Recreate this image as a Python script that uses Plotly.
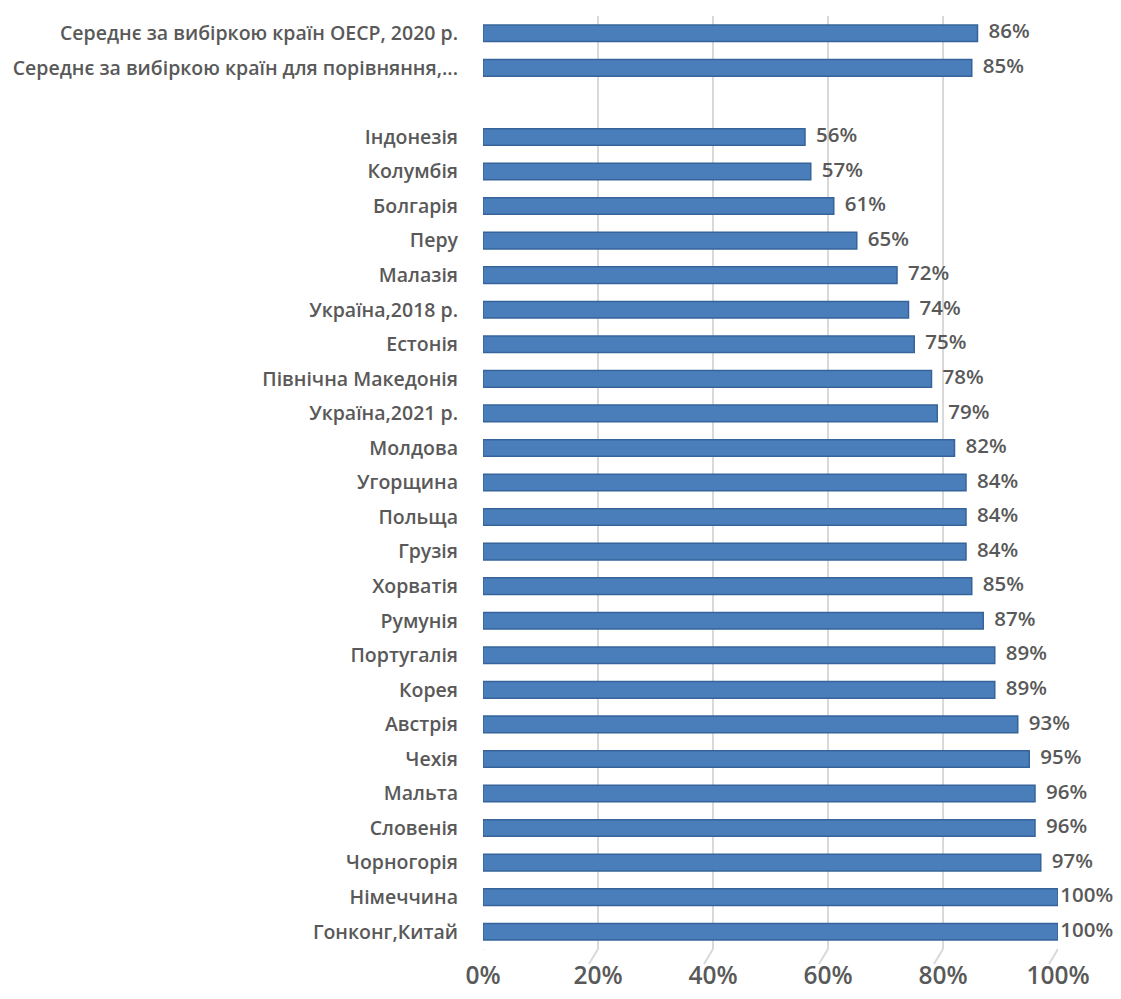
import plotly.graph_objects as go

categories = [
    "Середнє за вибіркою країн ОЕСР, 2020 р.",
    "Середнє за вибіркою країн для порівняння,...",
    " ",
    "Індонезія", "Колумбія", "Болгарія", "Перу", "Малазія",
    "Україна,2018 р.", "Естонія", "Північна Македонія", "Україна,2021 р.",
    "Молдова", "Угорщина", "Польща", "Грузія", "Хорватія", "Румунія",
    "Португалія", "Корея", "Австрія", "Чехія", "Мальта", "Словенія",
    "Чорногорія", "Німеччина", "Гонконг,Китай",
]
values = [86, 85, None, 56, 57, 61, 65, 72, 74, 75, 78, 79, 82, 84, 84, 84,
          85, 87, 89, 89, 93, 95, 96, 96, 97, 100, 100]
tick_vals = [0, 20, 40, 60, 80, 100]
tick_text = ["0%", "20%", "40%", "60%", "80%", "100%"]

FONT = "Open Sans"
TXT = "#595959"

x = [v / 100 if v is not None else None for v in values]
labels = [f"{v}%" if v is not None else "" for v in values]
# labels at the axis end hug the bar (as in the source chart)
pad = [2 if (v is not None and v >= 100) else 16 for v in values]

fig = go.Figure()
fig.add_trace(go.Bar(
    y=categories, x=x, orientation="h",
    marker=dict(color="#4a7ebb", line=dict(color="#36649a", width=1.5)),
    hoverinfo="skip",
))
fig.add_trace(go.Scatter(
    y=categories, x=x, mode="markers+text", text=labels,
    marker=dict(size=pad, color="rgba(0,0,0,0)",
                line=dict(width=0, color="rgba(0,0,0,0)")),
    textposition="middle right", cliponaxis=False,
    textfont=dict(size=20.5, color=TXT, family=FONT, weight=600),
    hoverinfo="skip",
))

for t in tick_vals:
    fig.add_shape(type="line", xref="x", yref="paper", xsizemode="pixel",
                  xanchor=t / 100, x0=0, x1=-9, y0=0, y1=-0.016,
                  line=dict(color="#d9d9d9", width=2), layer="below")

fig.update_layout(
    width=1113, height=983,
    margin=dict(l=475, r=63, t=8, b=42, autoexpand=False),
    plot_bgcolor="white", paper_bgcolor="white",
    bargap=0.52, showlegend=False,
    font=dict(family=FONT, color=TXT),
)
fig.update_xaxes(
    range=[0, 1.0], tickvals=[t / 100 for t in tick_vals], ticktext=tick_text,
    showgrid=True, gridcolor="#d9d9d9", gridwidth=2, zeroline=False,
    tickfont=dict(size=24.5, color=TXT, family=FONT, weight=600),
    ticklabelstandoff=9, showline=False, automargin=False,
)
fig.update_yaxes(
    categoryorder="array", categoryarray=categories,
    range=[len(categories) - 0.5, -0.5],
    tickfont=dict(size=19.5, color=TXT, family=FONT, weight=600),
    ticklabelstandoff=24, showgrid=False, showline=False, automargin=False,
)
fig.write_html("out.html")
